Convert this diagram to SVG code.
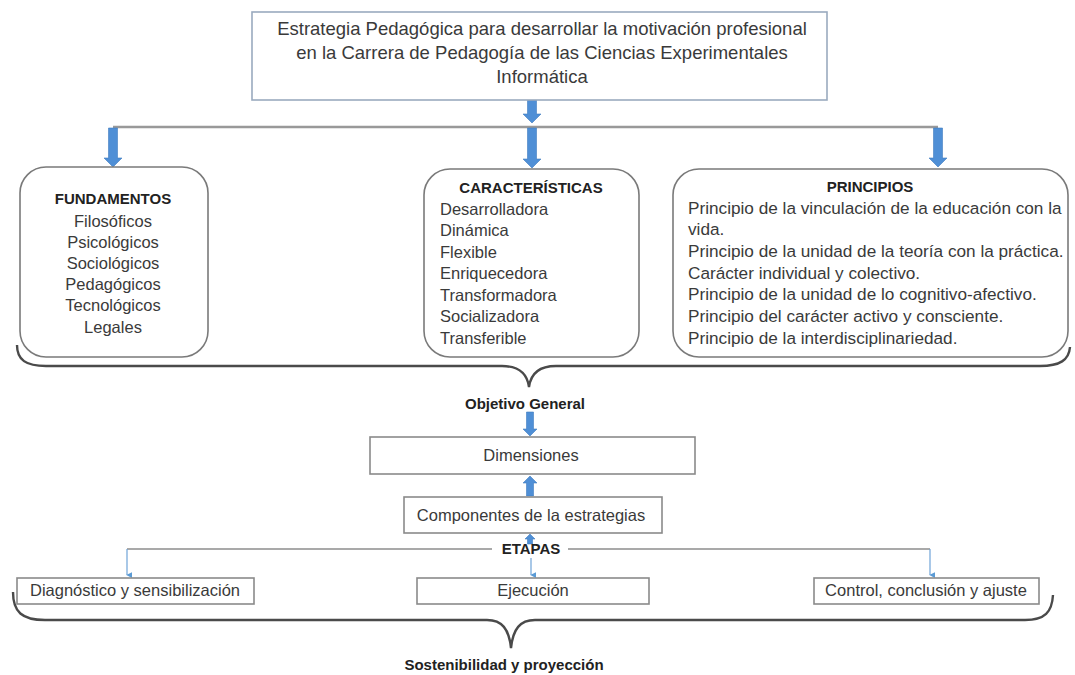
<svg xmlns="http://www.w3.org/2000/svg" width="1075" height="675" viewBox="0 0 1075 675">
<defs>
<style>
text{font-family:"Liberation Sans",Arial,sans-serif;fill:#3a3a3a}
.t{font-size:16.5px}
.tt{font-size:18.5px}
.tp{font-size:17.2px}
.b{font-size:15px;font-weight:bold;fill:#222}
.c{text-anchor:middle}
.rbox{fill:#fff;stroke:#7a7a7a;stroke-width:1.6}
.sbox{fill:#fff;stroke:#8a8a8a;stroke-width:1.6}
.blk{fill:#4f8fd6;stroke:#3f7cc0;stroke-width:0.6}
.gl{stroke:#999;stroke-width:2.6;fill:none}
.brace{stroke:#4a4a4a;stroke-width:2.4;fill:none}
.thin{stroke:#6fa3d8;stroke-width:1.2;fill:none}
</style>
<marker id="ah" viewBox="0 0 8 8" refX="4" refY="7" markerWidth="6" markerHeight="6" orient="auto-start-reverse" markerUnits="userSpaceOnUse">
<path d="M0,0 L8,0 L4,8 Z" fill="#5b9bd5"/>
</marker>
</defs>
<rect width="1075" height="675" fill="#fff"/>

<g id="connectors">
<line class="gl" x1="113" y1="127" x2="938" y2="127"/>
<path class="blk" d="M527.5,100 L536.5,100 L536.5,114 L541,114 L532,123 L523,114 L527.5,114 Z"/>
<path class="blk" d="M527.5,128 L536.5,128 L536.5,159 L541,159 L532,168 L523,159 L527.5,159 Z"/>
<path class="blk" d="M108.5,128 L117.5,128 L117.5,158 L122,158 L113,167 L104,158 L108.5,158 Z"/>
<path class="blk" d="M933.5,128 L942.5,128 L942.5,158 L947,158 L938,167 L929,158 L933.5,158 Z"/>
<path class="brace" d="M17,345 C17,360 26,366 46,366 L502,366 C517,366 527,372 529,387 C531,372 541,366 556,366 L1040,366 C1060,366 1069,360 1070,347"/>
<path class="blk" d="M526.5,412 L533.5,412 L533.5,429 L537,429 L530,436 L523,429 L526.5,429 Z"/>
<path class="blk" d="M530,476 L537,483 L533.5,483 L533.5,496 L526.5,496 L526.5,483 L523,483 Z"/>
<path class="blk" d="M530,534 L535,539 L532.5,539 L532.5,544 L527.5,544 L527.5,539 L525,539 Z"/>
<line x1="127" y1="549" x2="492" y2="549" stroke="#8c8c8c" stroke-width="1.5"/>
<line x1="568" y1="549" x2="930" y2="549" stroke="#8c8c8c" stroke-width="1.5"/>
<line class="thin" x1="127" y1="549" x2="127" y2="575" marker-end="url(#ah)"/>
<line class="thin" x1="531" y1="558" x2="531" y2="575" marker-end="url(#ah)"/>
<line class="thin" x1="930" y1="549" x2="930" y2="575" marker-end="url(#ah)"/>
<path class="brace" d="M13,592 C13,612 22,620 45,620 L487,620 C502,620 509,629 511,648 C513,629 520,620 535,620 L1025,620 C1045,620 1052,612 1053,595"/>
</g>

<g id="title">
<rect x="252" y="12" width="575" height="88" fill="#fff" stroke="#9aaabf" stroke-width="1.6"/>
<text class="tt c" x="542" y="35">Estrategia Pedagógica para desarrollar  la motivación profesional</text>
<text class="tt c" x="542" y="59">en la Carrera de Pedagogía de las Ciencias Experimentales</text>
<text class="tt c" x="542" y="83">Informática</text>
</g>

<g id="fundamentos">
<rect class="rbox" x="20" y="167" width="188" height="190" rx="26"/>
<text class="b c" x="113" y="204">FUNDAMENTOS</text>
<text class="t c" x="113" y="227">Filosóficos</text>
<text class="t c" x="113" y="248">Psicológicos</text>
<text class="t c" x="113" y="269">Sociológicos</text>
<text class="t c" x="113" y="290">Pedagógicos</text>
<text class="t c" x="113" y="311">Tecnológicos</text>
<text class="t c" x="113" y="333">Legales</text>
</g>

<g id="caracteristicas">
<rect class="rbox" x="424" y="169" width="215" height="188" rx="26"/>
<text class="b c" x="531" y="193">CARACTERÍSTICAS</text>
<text class="t" x="440" y="215">Desarrolladora</text>
<text class="t" x="440" y="236">Dinámica</text>
<text class="t" x="440" y="258">Flexible</text>
<text class="t" x="440" y="279">Enriquecedora</text>
<text class="t" x="440" y="301">Transformadora</text>
<text class="t" x="440" y="322">Socializadora</text>
<text class="t" x="440" y="344">Transferible</text>
</g>

<g id="principios">
<rect class="rbox" x="673" y="169" width="395" height="188" rx="26"/>
<text class="b c" x="870" y="192">PRINCIPIOS</text>
<text class="tp" x="688" y="214">Principio de la vinculación de la educación con la</text>
<text class="tp" x="688" y="235">vida.</text>
<text class="tp" x="688" y="257">Principio de la unidad de la teoría con la práctica.</text>
<text class="tp" x="688" y="279">Carácter individual y colectivo.</text>
<text class="tp" x="688" y="300">Principio de la unidad de lo cognitivo-afectivo.</text>
<text class="tp" x="688" y="322">Principio del carácter activo y consciente.</text>
<text class="tp" x="688" y="344">Principio de la interdisciplinariedad.</text>
</g>

<g id="objetivo">
<text class="b c" x="525" y="409">Objetivo General</text>
</g>

<g id="dimensiones">
<rect class="sbox" x="370" y="437" width="325" height="37"/>
<text class="t c" x="531" y="461">Dimensiones</text>
</g>

<g id="componentes">
<rect class="sbox" x="404" y="497" width="258" height="36"/>
<text class="t c" x="531" y="521">Componentes de la estrategias</text>
</g>

<g id="etapas">
<text class="b c" x="531" y="554">ETAPAS</text>
</g>

<g id="diagnostico">
<rect class="sbox" x="17" y="578" width="237" height="26"/>
<text class="t c" x="135" y="596">Diagnóstico y sensibilización</text>
</g>

<g id="ejecucion">
<rect class="sbox" x="417" y="578" width="232" height="26"/>
<text class="t c" x="533" y="596">Ejecución</text>
</g>

<g id="control">
<rect class="sbox" x="814" y="578" width="225" height="26"/>
<text class="t c" x="926" y="596">Control, conclusión y ajuste</text>
</g>

<g id="sostenibilidad">
<text class="b c" x="504" y="670">Sostenibilidad y proyección</text>
</g>
</svg>
